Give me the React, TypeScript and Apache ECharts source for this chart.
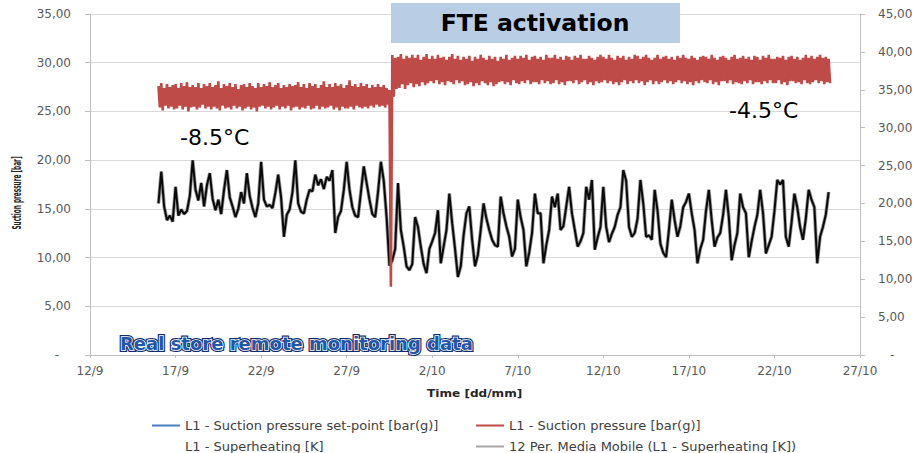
import React, { useEffect, useRef } from "react";
import * as echarts from "echarts";

// ---- data ----
const dateTicks = ["12/9", "17/9", "22/9", "27/9", "2/10", "7/10", "12/10", "17/10", "22/10", "27/10"];
const seriesNames = [
  "L1 - Suction pressure set-point [bar(g)]",
  "L1 - Suction pressure [bar(g)]",
  "L1 - Superheating [K]",
  "12 Per. Media Mobile (L1 - Superheating [K])",
];
// samples: days since 12/9, every 4 hours
const startDay = 4;
const stepDay = 1 / 6;

// L1 - Suction pressure set-point [bar(g)] (not visible in the picture)
const setPoint: number[] = [];

// L1 - Suction pressure [bar(g)] : upper and lower edge of the oscillation
const suctionHigh = [
  27.6, 27.9, 27.4, 27.8, 27.5, 27.7,
  27.8, 27.4, 27.9, 27.6, 28.0, 27.5,
  27.7, 27.5, 27.9, 27.4, 27.8, 27.6,
  27.9, 27.5, 27.7, 28.1, 27.4, 27.8,
  27.6, 27.9, 27.5, 27.8, 27.3, 27.7,
  27.8, 27.5, 27.9, 27.6, 27.4, 27.9,
  27.5, 27.8, 27.6, 28.0, 27.5, 27.7,
  27.9, 27.4, 27.7, 27.5, 27.8, 27.6,
  27.7, 28.0, 27.5, 27.8, 27.4, 27.9,
  27.6, 27.8, 27.4, 27.7, 28.1, 27.5,
  27.8, 27.5, 27.9, 27.6, 27.8, 27.4,
  27.7, 28.2, 27.6, 27.8, 27.5, 27.9,
  27.6, 27.8, 27.4, 27.7, 27.5, 27.8,
  27.5, 27.7, 27.4, 27.2, 30.8, 30.5,
  30.6, 30.9, 30.4, 30.7, 30.5, 30.8,
  30.5, 30.8, 30.3, 30.6, 30.9, 30.4,
  30.7, 30.4, 30.8, 30.5, 30.6, 30.3,
  30.6, 30.9, 30.4, 30.7, 30.3, 30.6,
  30.4, 30.7, 30.2, 30.6, 30.4, 30.8,
  30.5, 30.3, 30.7, 30.4, 30.6, 30.2,
  30.6, 30.4, 30.8, 30.3, 30.5, 30.7,
  30.4, 30.7, 30.5, 30.8, 30.3, 30.6,
  30.7, 30.4, 30.6, 30.3, 30.8, 30.5,
  30.5, 30.8, 30.4, 30.6, 30.3, 30.7,
  30.6, 30.3, 30.7, 30.5, 30.8, 30.4,
  30.4, 30.7, 30.5, 30.3, 30.6, 30.8,
  30.6, 30.4, 30.8, 30.5, 30.3, 30.7,
  30.5, 30.7, 30.3, 30.6, 30.4, 30.8,
  30.7, 30.4, 30.6, 30.8, 30.5, 30.3,
  30.5, 30.8, 30.4, 30.6, 30.7, 30.4,
  30.6, 30.3, 30.7, 30.5, 30.8, 30.5,
  30.4, 30.7, 30.5, 30.3, 30.6, 30.7,
  30.6, 30.4, 30.8, 30.5, 30.3, 30.6,
  30.7, 30.5, 30.3, 30.6, 30.8, 30.4,
  30.5, 30.7, 30.4, 30.6, 30.3, 30.7,
  30.6, 30.3, 30.7, 30.5, 30.8, 30.4,
  30.4, 30.6, 30.5, 30.7, 30.3, 30.6,
  30.7, 30.4, 30.6, 30.3, 30.5, 30.8,
  30.5, 30.7, 30.4, 30.6, 30.8, 30.5,
  30.6, 30.4,
];
const suctionLow = [
  25.4, 25.1, 25.6, 25.3, 25.5, 25.2,
  25.3, 25.6, 25.2, 25.5, 25.0, 25.4,
  25.5, 25.2, 25.4, 25.7, 25.3, 25.5,
  25.2, 25.5, 25.3, 25.1, 25.6, 25.3,
  25.4, 25.2, 25.6, 25.3, 25.5, 25.1,
  25.3, 25.5, 25.2, 25.4, 25.0, 25.5,
  25.6, 25.3, 25.5, 25.2, 25.4, 25.6,
  25.2, 25.5, 25.3, 25.6, 25.1, 25.4,
  25.5, 25.2, 25.4, 25.3, 25.6, 25.2,
  25.3, 25.6, 25.2, 25.5, 25.3, 25.4,
  25.6, 25.2, 25.4, 25.1, 25.5, 25.3,
  25.3, 25.5, 25.2, 25.6, 25.4, 25.3,
  25.5, 25.3, 25.6, 25.4, 25.7, 25.5,
  25.6, 25.4, 25.7, 7.0, 26.5, 27.3,
  27.4, 27.8, 27.3, 27.7, 27.9, 27.5,
  27.8, 27.6, 28.0, 27.7, 27.9, 28.1,
  27.9, 28.2, 27.8, 28.0, 27.7, 28.1,
  28.0, 27.8, 28.2, 27.9, 28.1, 27.7,
  27.8, 28.0, 27.6, 27.9, 27.7, 28.1,
  27.9, 27.7, 28.0, 27.6, 27.8, 28.0,
  28.1, 27.8, 28.0, 27.7, 28.2, 27.9,
  27.8, 28.1, 27.9, 28.2, 27.8, 28.0,
  28.0, 27.8, 28.2, 27.9, 28.1, 27.8,
  27.9, 28.2, 27.8, 28.0, 27.7, 28.1,
  28.1, 27.9, 28.2, 27.8, 28.0, 28.2,
  27.8, 28.0, 27.7, 28.1, 27.9, 28.0,
  28.2, 27.9, 28.1, 27.8, 28.0, 27.7,
  28.0, 28.2, 27.8, 28.1, 27.9, 28.2,
  27.9, 28.1, 27.7, 28.0, 28.2, 27.8,
  28.1, 27.8, 28.0, 28.2, 27.9, 28.1,
  27.8, 28.0, 28.2, 27.9, 28.1, 27.8,
  28.0, 27.7, 28.1, 27.9, 28.2, 28.0,
  27.9, 28.2, 27.8, 28.0, 27.7, 28.1,
  28.1, 27.9, 28.2, 27.8, 28.0, 27.9,
  27.8, 28.1, 27.9, 28.2, 27.8, 28.0,
  28.0, 27.8, 28.1, 27.9, 28.2, 27.9,
  27.9, 28.2, 27.8, 28.0, 27.7, 28.1,
  28.1, 27.9, 28.0, 27.8, 28.2, 27.9,
  27.8, 28.0, 28.2, 27.9, 28.1, 27.8,
  28.0, 27.9,
];

// L1 - Superheating [K]
const superheating = [
  20.0, 24.2, 19.6, 17.8, 18.4, 17.6,
  22.2, 18.4, 19.2, 18.6, 19.0, 21.0,
  25.7, 21.8, 20.4, 22.7, 19.6, 22.4,
  24.0, 20.6, 19.1, 20.5, 18.6, 21.8,
  24.4, 20.8, 19.6, 18.2, 19.3, 21.5,
  20.0, 24.0, 21.0, 19.4, 18.2, 20.0,
  25.5, 20.5, 19.6, 19.8, 19.4, 21.4,
  23.8, 20.8, 15.6, 18.5, 19.2, 21.5,
  25.7, 20.0, 18.9, 18.7, 20.5, 21.8,
  21.6, 23.8, 22.4, 23.2, 21.9, 23.5,
  23.0, 24.4, 16.1, 18.2, 19.0, 21.8,
  25.5, 21.8, 19.5, 18.4, 18.2, 21.5,
  24.9, 22.7, 20.5, 18.6, 18.2, 21.5,
  25.5, 23.0, 18.2, 11.8, 12.5, 14.0,
  22.7, 16.5, 14.3, 11.7, 11.2, 12.0,
  18.2, 16.9, 14.3, 12.0, 10.8, 14.0,
  15.0, 16.1, 19.1, 12.1, 14.3, 16.5,
  21.3, 17.4, 14.0, 10.3, 11.7, 15.8,
  18.7, 19.6, 15.2, 11.7, 13.2, 16.5,
  20.0, 18.0, 16.5, 15.2, 14.5, 14.3,
  20.9, 18.7, 17.0, 15.6, 13.0, 14.0,
  20.5, 18.2, 16.5, 11.7, 13.5, 16.1,
  21.3, 18.7, 18.7, 12.1, 14.5, 16.5,
  20.9, 19.5, 21.3, 16.5, 17.0, 19.6,
  22.2, 18.7, 16.5, 14.3, 15.0, 16.1,
  22.2, 20.5, 23.1, 13.9, 15.5, 16.9,
  22.2, 16.9, 14.9, 16.0, 16.9, 18.5,
  19.5, 24.4, 23.0, 16.9, 15.6, 16.1,
  18.0, 23.1, 20.0, 15.6, 15.8, 15.2,
  21.8, 19.1, 14.7, 13.5, 12.9, 16.5,
  20.5, 17.8, 15.6, 17.0, 19.5, 20.2,
  21.3, 18.7, 16.5, 12.1, 14.0, 15.2,
  19.0, 21.8, 17.8, 14.3, 15.5, 16.1,
  18.5, 21.8, 18.2, 12.5, 14.5, 16.1,
  21.3, 19.5, 18.7, 12.9, 15.0, 16.9,
  18.5, 21.8, 18.7, 13.4, 14.5, 15.6,
  19.0, 23.1, 22.5, 23.1, 15.6, 14.3,
  17.5, 21.3, 19.5, 16.9, 15.2, 18.0,
  21.8, 20.5, 19.5, 12.1, 15.6, 16.9,
  18.5, 21.5,
];

const FONT = '"DejaVu Sans", Verdana, sans-serif';

export default function App() {
  const ref = useRef<HTMLDivElement>(null);

  useEffect(() => {
    if (!ref.current) return;
    const chart = echarts.init(ref.current, undefined, { renderer: "svg" });

    const sampleDay = (i: number) => startDay + i * stepDay;
    const suctionData: number[][] = [];
    suctionHigh.forEach((h, i) => {
      suctionData.push([sampleDay(i), h]);
      suctionData.push([sampleDay(i) + stepDay / 2, suctionLow[i]]);
    });
    const superData = superheating.map((v, i) => [sampleDay(i), v]);
    const setPointData = setPoint.map((v, i) => [sampleDay(i), v]);

    const axisGray = "#bfbfbf";
    const labelStyle = { color: "#595959", fontSize: 12, fontFamily: FONT };
    const fmt = (v: number) => (v === 0 ? "{d|-}" : v.toFixed(2).replace(".", ","));

    const legendBase = {
      orient: "horizontal",
      itemWidth: 28,
      itemHeight: 2,
      icon: "rect",
      padding: 0,
      selectedMode: false,
      itemStyle: { borderWidth: 0 },
      textStyle: { fontSize: 13, color: "#404040", fontFamily: FONT },
    };

    const bold = (text: string, x: number, y: number, size: number, extra: any = {}) => ({
      type: "text",
      x,
      y,
      z: 11,
      ...extra,
      style: {
        text,
        fill: "#262626",
        fontSize: size,
        fontWeight: "bold",
        fontFamily: FONT,
        align: "left",
        verticalAlign: "middle",
        ...(extra.style || {}),
      },
    });

    const realStyle = {
      text: "Real store remote monitoring data",
      fontSize: 18,
      fontWeight: "bold",
      fontFamily: FONT,
      align: "left",
      verticalAlign: "middle",
    };

    const option: any = {
      animation: false,
      backgroundColor: "#ffffff",
      grid: { left: 90, right: 57, top: 14, bottom: 98, containLabel: false },
      xAxis: {
        type: "value",
        min: 0,
        max: 45,
        interval: 5,
        axisLine: { show: true, lineStyle: { color: axisGray } },
        axisTick: { show: true, length: 3, lineStyle: { color: axisGray } },
        splitLine: { show: false },
        axisLabel: {
          ...labelStyle,
          margin: 10,
          formatter: (v: number) => dateTicks[Math.round(v / 5)] ?? "",
        },
      },
      yAxis: [
        {
          type: "value",
          position: "left",
          min: 0,
          max: 35,
          interval: 5,
          axisLine: { show: true, lineStyle: { color: axisGray } },
          axisTick: { show: true, length: 5, lineStyle: { color: axisGray } },
          splitLine: { show: true, lineStyle: { color: "#d9d9d9", width: 1 } },
          axisLabel: {
            ...labelStyle,
            margin: 19,
            formatter: fmt,
            rich: { d: { ...labelStyle, padding: [0, 12, 0, 0] } },
          },
        },
        {
          type: "value",
          position: "right",
          min: 0,
          max: 45,
          interval: 5,
          axisLine: { show: true, lineStyle: { color: axisGray } },
          axisTick: { show: true, length: 5, lineStyle: { color: axisGray } },
          splitLine: { show: false },
          axisLabel: {
            ...labelStyle,
            margin: 18,
            formatter: fmt,
            rich: { d: { ...labelStyle, padding: [0, 0, 0, 12] } },
          },
        },
      ],
      legend: [
        {
          ...legendBase,
          left: 152,
          top: 419,
          data: [{ name: seriesNames[0], lineStyle: { width: 1.5 } }],
        },
        {
          ...legendBase,
          left: 476,
          top: 419,
          data: [{ name: seriesNames[1], lineStyle: { width: 1.5 } }],
        },
        {
          ...legendBase,
          left: 152,
          top: 440,
          data: [{ name: seriesNames[2], itemStyle: { opacity: 0 }, lineStyle: { opacity: 0 } }],
        },
        {
          ...legendBase,
          left: 476,
          top: 440,
          data: [{ name: seriesNames[3], lineStyle: { width: 1.5 } }],
        },
      ],
      series: [
        {
          name: seriesNames[0],
          type: "line",
          yAxisIndex: 0,
          data: setPointData,
          symbol: "none",
          color: "#4a7ebb",
          lineStyle: { color: "#4a7ebb", width: 2 },
          z: 1,
        },
        {
          name: seriesNames[1],
          type: "line",
          yAxisIndex: 0,
          data: suctionData,
          symbol: "none",
          color: "#be4b48",
          lineStyle: { color: "#be4b48", width: 2.6, join: "bevel" },
          z: 4,
        },
        {
          name: seriesNames[2],
          type: "line",
          yAxisIndex: 1,
          data: superData,
          symbol: "none",
          color: "#000000",
          lineStyle: { color: "#0a0a0a", width: 2 },
          z: 3,
        },
        {
          name: seriesNames[3],
          type: "line",
          yAxisIndex: 1,
          data: superData,
          symbol: "none",
          color: "#a6a6a6",
          lineStyle: { color: "#9a9a9a", width: 3.6 },
          z: 2,
        },
      ],
      graphic: [
        {
          type: "rect",
          shape: { x: 391, y: 3, width: 289, height: 40 },
          style: { fill: "#b9cde5" },
          z: 10,
        },
        {
          type: "text",
          x: 535,
          y: 23,
          z: 11,
          style: {
            text: "FTE activation",
            fill: "#000000",
            fontSize: 23.5,
            fontWeight: "bold",
            fontFamily: FONT,
            align: "center",
            verticalAlign: "middle",
          },
        },
        {
          type: "text",
          x: 180,
          y: 137,
          z: 11,
          style: { text: "-8.5°C", fill: "#000", fontSize: 22, fontFamily: FONT, align: "left", verticalAlign: "middle" },
        },
        {
          type: "text",
          x: 729,
          y: 110,
          z: 11,
          style: { text: "-4.5°C", fill: "#000", fontSize: 22, fontFamily: FONT, align: "left", verticalAlign: "middle" },
        },
        {
          type: "text",
          x: 120,
          y: 343,
          z: 11,
          style: { ...realStyle, fill: "#0f2d6b", stroke: "#0f2d6b", lineWidth: 4 },
        },
        {
          type: "text",
          x: 120,
          y: 343,
          z: 12,
          style: { ...realStyle, fill: "#ffffff", stroke: "#ffffff", lineWidth: 1.6 },
        },
        {
          type: "text",
          x: 120,
          y: 343,
          z: 13,
          style: { ...realStyle, fill: "#2356a8" },
        },
        bold("Suction pressure [bar]", 17, 193, 12, {
          rotation: Math.PI / 2,
          scaleX: 0.48,
          style: { align: "center" },
        }),
        bold("Time [dd/mm]", 427, 393, 11, { scaleX: 1.1 }),
      ],
    };

    chart.setOption(option);
    return () => chart.dispose();
  }, []);

  return (
    <div
      ref={ref}
      style={{ position: "fixed", left: 0, top: 0, width: 917, height: 453, background: "#fff" }}
    />
  );
}
